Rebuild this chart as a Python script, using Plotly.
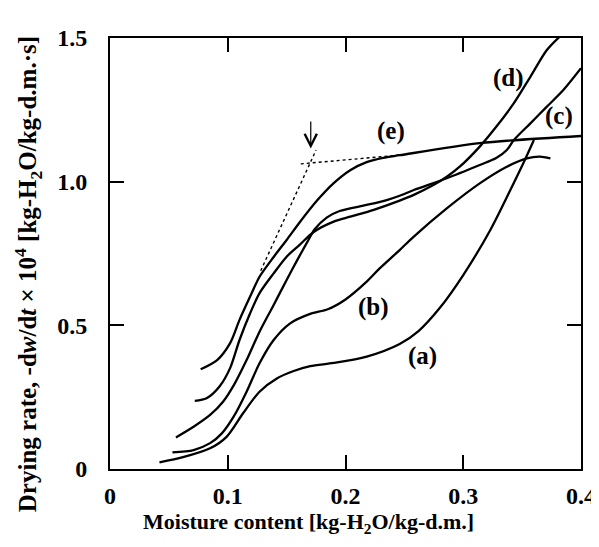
import plotly.graph_objects as go

# ---- data ----
a_x = [0.042, 0.062, 0.085, 0.099, 0.113, 0.127, 0.142, 0.156, 0.170, 0.190, 0.218, 0.246, 0.262, 0.280, 0.300, 0.323, 0.340, 0.351, 0.360]
a_y = [0.023, 0.041, 0.072, 0.112, 0.194, 0.269, 0.316, 0.341, 0.358, 0.369, 0.391, 0.435, 0.480, 0.560, 0.675, 0.832, 0.971, 1.064, 1.145]

b_x = [0.053, 0.071, 0.085, 0.095, 0.105, 0.116, 0.127, 0.139, 0.153, 0.170, 0.185, 0.200, 0.218, 0.229, 0.246, 0.258, 0.286, 0.314, 0.337, 0.354, 0.365, 0.374]
b_y = [0.058, 0.066, 0.090, 0.124, 0.182, 0.269, 0.368, 0.449, 0.507, 0.540, 0.556, 0.590, 0.652, 0.698, 0.762, 0.809, 0.907, 0.994, 1.052, 1.081, 1.087, 1.081]

c_x = [0.056, 0.071, 0.085, 0.096, 0.106, 0.116, 0.127, 0.139, 0.150, 0.159, 0.167, 0.174, 0.184, 0.195, 0.218, 0.235, 0.246, 0.258, 0.286, 0.314, 0.328, 0.337, 0.343, 0.357, 0.371, 0.385, 0.400]
c_y = [0.110, 0.147, 0.188, 0.234, 0.298, 0.379, 0.478, 0.571, 0.658, 0.727, 0.786, 0.835, 0.875, 0.898, 0.919, 0.936, 0.951, 0.971, 1.012, 1.058, 1.082, 1.110, 1.145, 1.203, 1.261, 1.319, 1.395]

d_x = [0.072, 0.082, 0.093, 0.102, 0.110, 0.119, 0.127, 0.139, 0.150, 0.161, 0.173, 0.190, 0.204, 0.224, 0.246, 0.258, 0.275, 0.286, 0.297, 0.314, 0.328, 0.343, 0.357, 0.371, 0.382]
d_y = [0.237, 0.246, 0.287, 0.351, 0.449, 0.542, 0.612, 0.681, 0.739, 0.780, 0.825, 0.861, 0.878, 0.902, 0.934, 0.954, 0.989, 1.017, 1.052, 1.122, 1.191, 1.273, 1.365, 1.458, 1.505]

e_x = [0.077, 0.091, 0.102, 0.110, 0.119, 0.127, 0.139, 0.150, 0.161, 0.176, 0.190, 0.204, 0.218, 0.232, 0.246, 0.314, 0.400]
e_y = [0.347, 0.379, 0.438, 0.519, 0.600, 0.669, 0.738, 0.797, 0.858, 0.935, 0.995, 1.040, 1.068, 1.083, 1.092, 1.134, 1.159]

tangent_x = [0.128, 0.175]
tangent_y = [0.690, 1.110]
plateau_x = [0.162, 0.245]
plateau_y = [1.062, 1.092]

arrow_x = 0.1705
arrow_tip_y = 1.115
arrow_tail_y = 1.215

curve_labels = ["(a)", "(b)", "(c)", "(d)", "(e)"]
label_x = [0.2652, 0.224, 0.3816, 0.3386, 0.2384]
label_y = [0.393, 0.565, 1.230, 1.360, 1.178]

x_ticks = [0, 0.1, 0.2, 0.3, 0.4]
x_ticktext = ["0", "0.1", "0.2", "0.3", "0.4"]
y_ticks = [0, 0.5, 1.0, 1.5]
y_ticktext = ["0", "0.5", "1.0", "1.5"]

x_title = "Moisture content [kg-H<sub>2</sub>O/kg-d.m.]"
y_title = "Drying rate, -d<i>w</i>/d<i>t</i> × 10<sup>4</sup> [kg-H<sub>2</sub>O/kg-d.m.·s]"

FONT = "Liberation Serif, Times New Roman, serif"

fig = go.Figure()
for xs, ys in [(a_x, a_y), (b_x, b_y), (c_x, c_y), (d_x, d_y), (e_x, e_y)]:
    fig.add_trace(go.Scatter(x=xs, y=ys, mode="lines",
                             line=dict(color="black", width=2.3, shape="spline", smoothing=0.8),
                             showlegend=False, hoverinfo="skip"))
for xs, ys in [(tangent_x, tangent_y), (plateau_x, plateau_y)]:
    fig.add_trace(go.Scatter(x=xs, y=ys, mode="lines",
                             line=dict(color="black", width=1.4, dash="dot"),
                             showlegend=False, hoverinfo="skip"))

for t, lx, ly in zip(curve_labels, label_x, label_y):
    fig.add_annotation(x=lx, y=ly, text="<b>" + t + "</b>", showarrow=False,
                       font=dict(family=FONT, size=25, color="black"))

fig.add_annotation(x=arrow_x, y=arrow_tip_y, ax=arrow_x, ay=arrow_tail_y,
                   xref="x", yref="y", axref="x", ayref="y", text="",
                   showarrow=True, arrowhead=5, arrowsize=2.0, arrowwidth=1.2,
                   arrowcolor="black")

# axis titles as annotations (positioned like the reference)
fig.add_annotation(xref="paper", yref="paper", x=0.4225, y=0, yshift=-54,
                   xanchor="center", yanchor="middle", showarrow=False,
                   text="<b>" + x_title + "</b>",
                   font=dict(family=FONT, size=22, color="black"))
fig.add_annotation(xref="paper", yref="paper", x=0, y=0.452, xshift=-82,
                   xanchor="center", yanchor="middle", showarrow=False, textangle=-90,
                   text="<b>" + y_title + "</b>",
                   font=dict(family=FONT, size=25, color="black"))

axis_common = dict(showline=True, linecolor="black", linewidth=1.8, mirror="ticks",
                   ticks="inside", ticklen=14, tickwidth=1.5, tickcolor="black",
                   showgrid=False, zeroline=False,
                   tickfont=dict(family=FONT, size=24, color="black"))

fig.update_xaxes(range=[0, 0.4], tickvals=x_ticks,
                 ticktext=["<b>" + t + "</b>" for t in x_ticktext],
                 ticklabelstandoff=4, **axis_common)
fig.update_yaxes(range=[0, 1.5], tickvals=y_ticks,
                 ticktext=["<b>" + t + "</b>" for t in y_ticktext],
                 ticklabelstandoff=16, **axis_common)

# the page body adds an 8px offset; the figure is sized to compensate
fig.update_layout(width=591, height=539, margin=dict(l=102, r=18, t=30, b=78, autoexpand=False),
                  plot_bgcolor="white", paper_bgcolor="white", showlegend=False)

fig.write_html("out.html")
